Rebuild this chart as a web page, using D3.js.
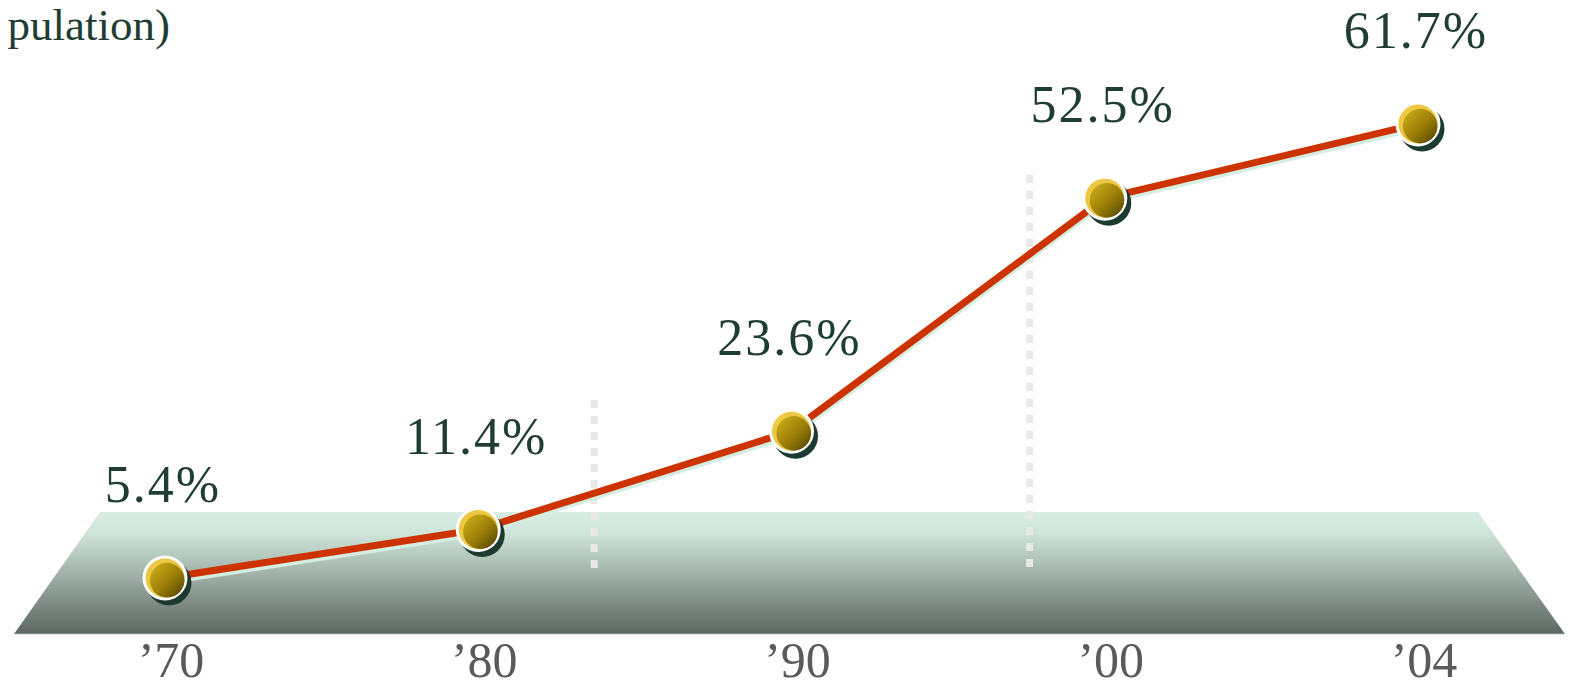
<!DOCTYPE html>
<html>
<head>
<meta charset="utf-8">
<script src="https://cdn.jsdelivr.net/npm/d3@7/dist/d3.min.js"></script>
<style>
  html, body { margin: 0; padding: 0; background: #fff; overflow: hidden; }
  svg { display: block; }
</style>
</head>
<body>
<svg id="chart" width="1571" height="688"></svg>
<script>
// Share over the years
const years = ["’70", "’80", "’90", "’00", "’04"];
const values = [5.4, 11.4, 23.6, 52.5, 61.7];
const valueLabels = ["5.4%", "11.4%", "23.6%", "52.5%", "61.7%"];
const unitLabel = "pulation)";

const W = 1571, H = 688;
const svg = d3.select("#chart");
const defs = svg.append("defs");

const x = d3.scalePoint().domain(years).range([165, 1418]);
const y = d3.scaleLinear().domain([0, 70]).range([621.5, 57]);

const serif = "'Liberation Serif', 'DejaVu Serif', serif";

// Floor gradient
const floorGrad = defs.append("linearGradient")
  .attr("id", "floorGrad").attr("x1", 0).attr("y1", 0).attr("x2", 0).attr("y2", 1);
[[0, "#d9eee3"], [0.18, "#cfe4d9"], [0.5, "#a2b3aa"], [0.8, "#77847e"], [1, "#5d6863"]]
  .forEach(([o, c]) => floorGrad.append("stop").attr("offset", o).attr("stop-color", c));

// Marker body gradient
const coinGrad = defs.append("linearGradient")
  .attr("id", "coinGrad").attr("x1", 0.15).attr("y1", 0.15).attr("x2", 0.85).attr("y2", 0.85);
[[0, "#c4a414"], [0.55, "#9a7e08"], [1, "#655200"]]
  .forEach(([o, c]) => coinGrad.append("stop").attr("offset", o).attr("stop-color", c));

// Unit caption
svg.append("text")
  .attr("x", 170).attr("y", 40)
  .attr("text-anchor", "end")
  .attr("font-family", serif).attr("font-size", 45)
  .attr("fill", "#1f3d33")
  .text(unitLabel);

// Perspective floor
const floorTop = 512, floorBottom = 634;
svg.append("polygon")
  .attr("points", [[100, floorTop], [1478, floorTop], [1565, floorBottom], [14, floorBottom]].join(" "))
  .attr("fill", "url(#floorGrad)");
svg.append("line")
  .attr("x1", 14).attr("x2", 1565).attr("y1", floorBottom + 0.5).attr("y2", floorBottom + 0.5)
  .attr("stroke", "#e4ebe7").attr("stroke-width", 1.5);

// Dotted dividers between periods
const dividers = [
  { pos: 0.37, from: 1, to: 2, top: 400 },
  { pos: 0.76, from: 2, to: 3, top: 175 }
];
dividers.forEach(d => {
  const dx = x(years[d.from]) + d.pos * (x(years[d.to]) - x(years[d.from]));
  svg.append("line")
    .attr("x1", dx).attr("x2", dx)
    .attr("y1", d.top).attr("y2", 568)
    .attr("stroke", "#e8e8e8").attr("stroke-width", 7)
    .attr("stroke-dasharray", "8,8");
});

// Line with soft mint under-shadow
const line = d3.line().x((d, i) => x(years[i])).y(d => y(d));
svg.append("path")
  .datum(values)
  .attr("d", line)
  .attr("transform", "translate(0,4)")
  .attr("fill", "none")
  .attr("stroke", "#d6ede1").attr("stroke-width", 6);
svg.append("path")
  .datum(values)
  .attr("d", line)
  .attr("fill", "none")
  .attr("stroke", "#cc3300").attr("stroke-width", 7)
  .attr("stroke-linejoin", "round");

// Markers
const marks = svg.selectAll("g.mark")
  .data(values)
  .join("g")
  .attr("class", "mark")
  .attr("transform", (d, i) => `translate(${x(years[i])},${y(d)})`);
marks.append("circle").attr("cx", 4).attr("cy", 5).attr("r", 22.5).attr("fill", "#1d3a30");
marks.append("circle").attr("r", 22.5).attr("fill", "#ffffff");
marks.append("circle").attr("r", 19.5).attr("fill", "#ecc844");
marks.append("circle").attr("cx", 2.2).attr("cy", 2.2).attr("r", 17.3).attr("fill", "url(#coinGrad)");

// Value labels
svg.selectAll("text.val")
  .data(values)
  .join("text")
  .attr("class", "val")
  .attr("x", (d, i) => x(years[i]) - 2)
  .attr("y", d => y(d) - 76)
  .attr("text-anchor", "middle")
  .attr("font-family", serif).attr("font-size", 52)
  .attr("letter-spacing", 2)
  .attr("fill", "#1f3d33")
  .text((d, i) => valueLabels[i]);

// Year axis labels
svg.selectAll("text.year")
  .data(years)
  .join("text")
  .attr("class", "year")
  .attr("x", d => x(d) + 6)
  .attr("y", 677)
  .attr("text-anchor", "middle")
  .attr("font-family", serif).attr("font-size", 50)
  .attr("fill", "#5a5a5a")
  .text(d => d);
</script>
</body>
</html>
